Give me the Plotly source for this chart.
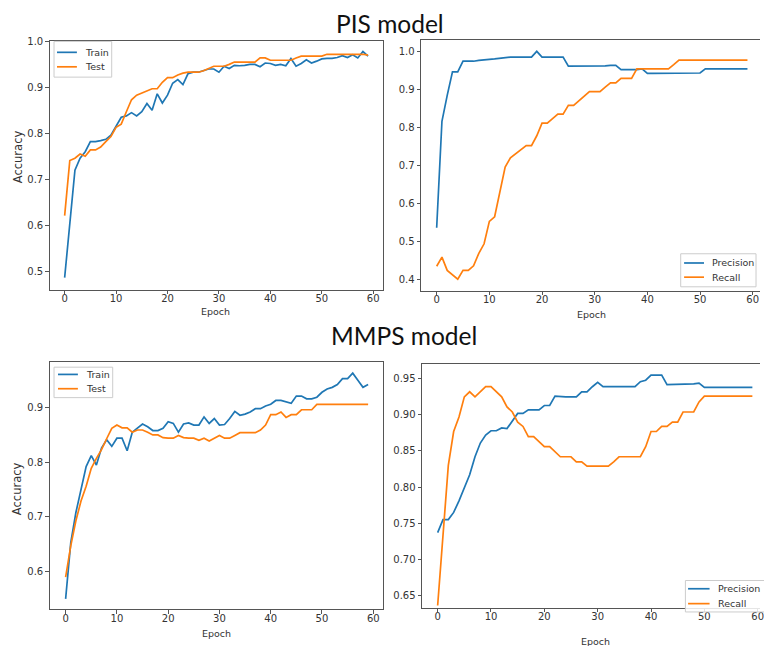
import plotly.graph_objects as go

epochs = list(range(60))

pis_train = [0.486, 0.602, 0.720, 0.746, 0.760, 0.782, 0.782, 0.784, 0.787, 0.796,
             0.814, 0.835, 0.838, 0.845, 0.838, 0.847, 0.865, 0.850, 0.886, 0.866,
             0.883, 0.909, 0.917, 0.906, 0.930, 0.933, 0.933, 0.936, 0.940, 0.940,
             0.933, 0.946, 0.941, 0.948, 0.947, 0.948, 0.950, 0.950, 0.945, 0.953,
             0.952, 0.948, 0.950, 0.947, 0.963, 0.946, 0.952, 0.960, 0.953, 0.957,
             0.962, 0.963, 0.963, 0.965, 0.969, 0.965, 0.971, 0.964, 0.978, 0.968]
pis_test = [0.621, 0.741, 0.746, 0.755, 0.750, 0.764, 0.764, 0.770, 0.782, 0.793,
            0.813, 0.820, 0.847, 0.873, 0.883, 0.888, 0.892, 0.897, 0.897, 0.911,
            0.921, 0.921, 0.927, 0.931, 0.933, 0.933, 0.933, 0.936, 0.941, 0.946,
            0.946, 0.946, 0.950, 0.955, 0.955, 0.955, 0.955, 0.955, 0.964, 0.964,
            0.959, 0.959, 0.959, 0.959, 0.959, 0.964, 0.968, 0.968, 0.968, 0.968,
            0.968, 0.972, 0.972, 0.972, 0.972, 0.972, 0.972, 0.972, 0.972, 0.970]
pis_precision = [0.536, 0.816, 0.884, 0.946, 0.946, 0.974, 0.974, 0.974, 0.976, 0.978,
                 0.979, 0.980, 0.982, 0.984, 0.985, 0.985, 0.985, 0.985, 0.985, 1.000,
                 0.985, 0.985, 0.985, 0.985, 0.985, 0.961, 0.961, 0.962, 0.962, 0.962,
                 0.962, 0.962, 0.962, 0.963, 0.963, 0.952, 0.952, 0.952, 0.952, 0.954,
                 0.942, 0.942, 0.942, 0.942, 0.942, 0.943, 0.943, 0.943, 0.943, 0.943,
                 0.943, 0.954, 0.954, 0.954, 0.954, 0.954, 0.954, 0.954, 0.954, 0.954]
pis_recall = [0.435, 0.459, 0.424, 0.413, 0.401, 0.424, 0.424, 0.436, 0.469, 0.494,
              0.553, 0.565, 0.632, 0.696, 0.720, 0.730, 0.742, 0.752, 0.752, 0.778,
              0.811, 0.811, 0.823, 0.835, 0.835, 0.858, 0.858, 0.870, 0.883, 0.894,
              0.894, 0.894, 0.906, 0.917, 0.917, 0.929, 0.929, 0.929, 0.954, 0.954,
              0.954, 0.954, 0.954, 0.954, 0.954, 0.965, 0.977, 0.977, 0.977, 0.977,
              0.977, 0.977, 0.977, 0.977, 0.977, 0.977, 0.977, 0.977, 0.977, 0.977]

mmps_train = [0.550, 0.653, 0.708, 0.750, 0.792, 0.812, 0.795, 0.826, 0.841, 0.829,
              0.844, 0.844, 0.821, 0.855, 0.862, 0.870, 0.865, 0.858, 0.858, 0.862,
              0.874, 0.871, 0.855, 0.870, 0.872, 0.868, 0.868, 0.883, 0.871, 0.880,
              0.868, 0.869, 0.880, 0.893, 0.886, 0.888, 0.892, 0.898, 0.898, 0.903,
              0.906, 0.913, 0.913, 0.911, 0.908, 0.921, 0.921, 0.916, 0.916, 0.919,
              0.928, 0.934, 0.937, 0.942, 0.953, 0.953, 0.963, 0.950, 0.937, 0.942]
mmps_test = [0.590, 0.647, 0.693, 0.729, 0.756, 0.789, 0.807, 0.823, 0.843, 0.862,
             0.868, 0.863, 0.863, 0.855, 0.859, 0.859, 0.855, 0.850, 0.850, 0.845,
             0.844, 0.844, 0.849, 0.845, 0.844, 0.844, 0.840, 0.844, 0.839, 0.844,
             0.849, 0.844, 0.844, 0.849, 0.854, 0.854, 0.854, 0.854, 0.859, 0.868,
             0.887, 0.887, 0.892, 0.882, 0.887, 0.887, 0.896, 0.896, 0.896, 0.906,
             0.906, 0.906, 0.906, 0.906, 0.906, 0.906, 0.906, 0.906, 0.906, 0.906]
mmps_precision = [0.737, 0.755, 0.755, 0.765, 0.781, 0.800, 0.817, 0.842, 0.861, 0.872,
                  0.878, 0.878, 0.882, 0.881, 0.891, 0.902, 0.902, 0.907, 0.907, 0.907,
                  0.913, 0.913, 0.926, 0.925, 0.925, 0.925, 0.925, 0.932, 0.932, 0.939,
                  0.945, 0.939, 0.939, 0.939, 0.939, 0.939, 0.939, 0.939, 0.946, 0.948,
                  0.955, 0.955, 0.955, 0.942, 0.942, 0.942, 0.943, 0.943, 0.943, 0.944,
                  0.938, 0.938, 0.938, 0.938, 0.938, 0.938, 0.938, 0.938, 0.938, 0.938]
mmps_recall = [0.636, 0.728, 0.830, 0.877, 0.897, 0.925, 0.932, 0.925, 0.932, 0.939,
               0.939, 0.932, 0.925, 0.911, 0.904, 0.890, 0.884, 0.870, 0.870, 0.863,
               0.856, 0.856, 0.849, 0.842, 0.842, 0.842, 0.835, 0.835, 0.829, 0.829,
               0.829, 0.829, 0.829, 0.835, 0.842, 0.842, 0.842, 0.842, 0.842, 0.856,
               0.877, 0.877, 0.884, 0.884, 0.890, 0.890, 0.904, 0.904, 0.904, 0.918,
               0.926, 0.926, 0.926, 0.926, 0.926, 0.926, 0.926, 0.926, 0.926, 0.926]

x_ticks = [0, 10, 20, 30, 40, 50, 60]
BLUE = "#1f77b4"
ORANGE = "#ff7f0e"
W, H = 764, 646

fig = go.Figure()

def add(xa, ya, y, name, color):
    fig.add_trace(go.Scatter(x=epochs, y=y, mode="lines", name=name,
                             line=dict(color=color, width=1.7),
                             xaxis=xa, yaxis=ya, showlegend=False))

add("x", "y", pis_train, "Train", BLUE)
add("x", "y", pis_test, "Test", ORANGE)
add("x2", "y2", pis_precision, "Precision", BLUE)
add("x2", "y2", pis_recall, "Recall", ORANGE)
add("x3", "y3", mmps_train, "Train", BLUE)
add("x3", "y3", mmps_test, "Test", ORANGE)
add("x4", "y4", mmps_precision, "Precision", BLUE)
add("x4", "y4", mmps_recall, "Recall", ORANGE)

tickfont = dict(family="DejaVu Sans", size=10, color="#333")
LINE = "#555"

def px_x(p):
    return p / W

def px_y(p):
    return 1 - p / H

def xaxis(dom, rng, anchor, mirror):
    return dict(domain=dom, range=rng, anchor=anchor, tickvals=x_ticks,
                showgrid=False, zeroline=False, showline=True, linecolor=LINE,
                linewidth=1, mirror=mirror, ticks="outside", ticklen=3.5,
                tickcolor=LINE, tickfont=tickfont, ticklabelstandoff=-4,
                ticklabeloverflow="allow")

def yaxis(dom, rng, anchor, mirror, dtick, fmt):
    return dict(domain=dom, range=rng, anchor=anchor, dtick=dtick, tick0=0,
                tickformat=fmt, showgrid=False, zeroline=False, showline=True,
                linecolor=LINE, linewidth=1, mirror=mirror, ticks="outside",
                ticklen=3.5, tickcolor=LINE, tickfont=tickfont)

fig.update_layout(
    width=W, height=H,
    margin=dict(l=0, r=0, t=0, b=0),
    paper_bgcolor="white", plot_bgcolor="white",
    showlegend=False,
    xaxis=xaxis([px_x(50), px_x(385)], [-2.9, 61.9], "y", True),
    yaxis=yaxis([px_y(287), px_y(36)], [0.4596, 1.0015], "x", True, 0.1, ".1f"),
    xaxis2=xaxis([px_x(423.3), 1], [-2.96, 61.38], "y2", True),
    yaxis2=yaxis([px_y(288), px_y(35)], [0.3705, 1.0305], "x2", False, 0.1, ".1f"),
    xaxis3=xaxis([px_x(50), px_x(385)], [-3.1, 61.9], "y3", True),
    yaxis3=yaxis([px_y(609), px_y(360)], [0.531, 0.983], "x3", True, 0.1, ".1f"),
    xaxis4=xaxis([px_x(424.3), 1], [-2.92, 60.43], "y4", True),
    yaxis4=yaxis([px_y(607.7), px_y(361.7)], [0.6326, 0.9706], "x4", False, 0.05, ".2f"),
)

def label(text, x, y, size, angle=0, family="DejaVu Sans", color="#333", xanchor="center"):
    fig.add_annotation(text=text, x=px_x(x), y=px_y(y), xref="paper", yref="paper",
                       showarrow=False, textangle=angle, xanchor=xanchor,
                       yanchor="middle", font=dict(family=family, size=size, color=color))

# matplotlib-style legend boxes (box, sample line span, text x, row y's)
def legend_box(x0, y0, x1, y1, lx0, lx1, tx, rows):
    fig.add_shape(type="rect", xref="paper", yref="paper",
                  x0=px_x(x0), x1=px_x(x1), y0=px_y(y1), y1=px_y(y0),
                  line=dict(color="#cccccc", width=1),
                  fillcolor="rgba(255,255,255,0.85)", layer="above")
    for (name, color, ry) in rows:
        fig.add_shape(type="line", xref="paper", yref="paper",
                      x0=px_x(lx0), x1=px_x(lx1), y0=px_y(ry), y1=px_y(ry),
                      line=dict(color=color, width=1.7), layer="above")
        label(name, tx, ry, 9.5, xanchor="left")

legend_box(54.3, 36.7, 112.3, 72.7, 57.3, 77.3, 83.5,
           [(fig.data[0].name, BLUE, 47.7), (fig.data[1].name, ORANGE, 62.3)])
legend_box(684.3, 250.7, 760, 284, 687.7, 707.7, 714,
           [(fig.data[2].name, BLUE, 260), (fig.data[3].name, ORANGE, 274.3)])
legend_box(54.3, 365, 113.3, 395.7, 58.3, 78.3, 84.5,
           [(fig.data[4].name, BLUE, 372.3), (fig.data[5].name, ORANGE, 386.7)])
legend_box(689, 580, 770, 611.7, 691.7, 713.3, 719.5,
           [(fig.data[6].name, BLUE, 588.3), (fig.data[7].name, ORANGE, 603.3)])

label("PIS model", 392, 19, 24.5, family="Lato", color="#111")
label("MMPS model", 406, 333, 24.5, family="Lato", color="#111")
label("Accuracy", 17.5, 153, 11.5, angle=-90)
label("Accuracy", 17, 487, 11.5, angle=-90)
label("Epoch", 216.7, 309.3, 9.5)
label("Epoch", 594.5, 311.7, 9.5)
label("Epoch", 217.8, 633.3, 9.5)
label("Epoch", 598.3, 641.7, 9.5)

post = ("document.body.style.margin='0';document.body.style.overflow='hidden';"
        "var d=document.getElementById('{plot_id}');d.style.position='absolute';"
        "d.style.left='0px';d.style.top='0px';")
fig.write_html("out.html", post_script=post, config={"displayModeBar": False})
